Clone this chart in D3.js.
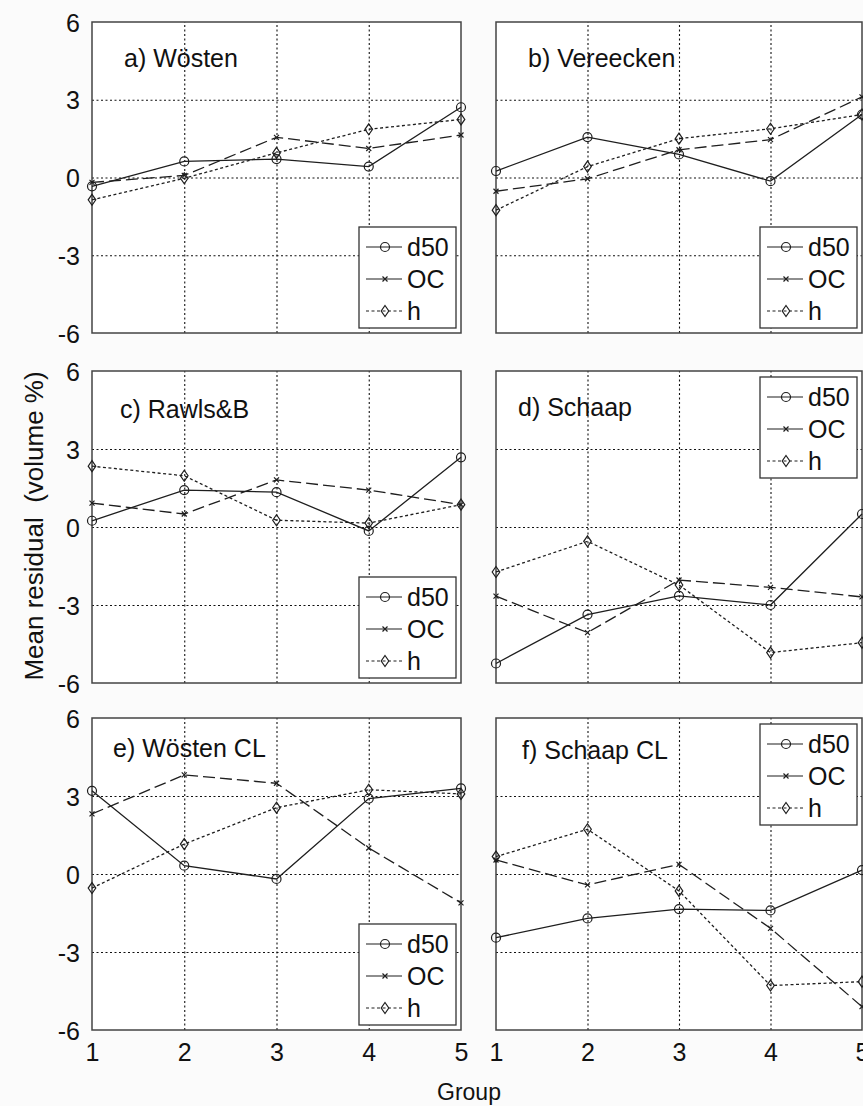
<!DOCTYPE html>
<html>
<head>
<meta charset="utf-8">
<script src="https://cdn.jsdelivr.net/npm/d3@7"></script>
<style>
  body { margin: 0; background: #fbfbfb; }
  svg { display: block; font-family: "Liberation Sans", Arial, sans-serif; }
</style>
</head>
<body>
<div id="vis"></div>
<script>
// chart values
const groups = [1, 2, 3, 4, 5]
const yTicks = [-6, -3, 0, 3, 6]
const seriesNames = ["d50", "OC", "h"]
const panelTitles = ["a) Wösten", "b) Vereecken", "c) Rawls&B", "d) Schaap", "e) Wösten CL", "f) Schaap CL"]

const d50 = [
  [-0.34, 0.62, 0.71, 0.42, 2.71],
  [0.25, 1.56, 0.89, -0.14, 2.43],
  [0.24, 1.42, 1.34, -0.15, 2.68],
  [-5.25, -3.37, -2.65, -3.0, 0.5],
  [3.20, 0.32, -0.19, 2.90, 3.29],
  [-2.45, -1.71, -1.35, -1.40, 0.15]
]
const oc = [
  [-0.19, 0.08, 1.55, 1.12, 1.64],
  [-0.53, -0.05, 1.07, 1.46, 3.11],
  [0.92, 0.50, 1.81, 1.42, 0.86],
  [-2.66, -4.06, -2.04, -2.32, -2.69],
  [2.31, 3.81, 3.49, 1.0, -1.11],
  [0.54, -0.42, 0.37, -2.09, -5.10]
]
const h = [
  [-0.86, -0.03, 0.95, 1.86, 2.24],
  [-1.26, 0.42, 1.50, 1.88, 2.43],
  [2.34, 1.97, 0.26, 0.15, 0.86],
  [-1.73, -0.55, -2.23, -4.83, -4.45],
  [-0.54, 1.15, 2.55, 3.24, 3.08],
  [0.67, 1.72, -0.65, -4.29, -4.14]
]

// layout
const W = 863, H = 1106
const cols = [[92, 461], [496, 862]]
const rows = [[22, 333], [371, 683], [718, 1030]]
const titleOffset = [[32, 45], [32, 45], [28, 47], [22, 45], [21, 39], [26, 41]]
const legendTop = [false, false, false, true, false, true]
const ink = "#1e1e1e"

const styles = {
  d50: { dash: null, marker: "circle" },
  OC: { dash: "12,5", marker: "x" },
  h: { dash: "3,2.5", marker: "diamond" }
}

let svg = d3.select("#vis").append("svg")
    .attr("width", W)
    .attr("height", H)
    .attr("viewBox", `0 0 ${W} ${H}`)

function drawMarker(g, kind, cx, cy) {
  if (kind === "circle") {
    g.append("circle").attr("cx", cx).attr("cy", cy).attr("r", 4.5)
      .attr("fill", "none").attr("stroke", ink).attr("stroke-width", 1.2)
  } else if (kind === "x") {
    g.append("path").attr("d", `M${cx-2.5},${cy-2.5}L${cx+2.5},${cy+2.5}M${cx-2.5},${cy+2.5}L${cx+2.5},${cy-2.5}`)
      .attr("stroke", ink).attr("stroke-width", 1.2)
  } else {
    g.append("path").attr("d", `M${cx},${cy-5.5}L${cx+3.8},${cy}L${cx},${cy+5.5}L${cx-3.8},${cy}Z`)
      .attr("fill", "none").attr("stroke", ink).attr("stroke-width", 1.2)
  }
}

panelTitles.forEach((title, i) => {
  let col = i % 2, row = Math.floor(i / 2)
  let [x0, x1] = cols[col], [y0, y1] = rows[row]
  let x = d3.scaleLinear().domain([1, 5]).range([x0, x1])
  let y = d3.scaleLinear().domain([-6, 6]).range([y1, y0])
  let g = svg.append("g")

  g.append("rect").attr("x", x0).attr("y", y0).attr("width", x1 - x0).attr("height", y1 - y0)
    .attr("fill", "#fff")

  // grid via axes
  let gy = g.append("g").attr("transform", `translate(${x0},0)`)
    .call(d3.axisLeft(y).tickValues(yTicks).tickSize(-(x1 - x0)).tickPadding(x0 - 80)
      .tickFormat(col === 0 ? d => String(d) : ""))
  let gx = g.append("g").attr("transform", `translate(0,${y1})`)
    .call(d3.axisBottom(x).tickValues(groups).tickSize(-(y1 - y0)).tickPadding(13)
      .tickFormat(row === 2 ? d => String(d) : ""))
  ;[gx, gy].forEach(ax => {
    ax.select(".domain").remove()
    ax.selectAll(".tick line").attr("stroke", "#111").attr("stroke-width", 1.1)
      .attr("stroke-dasharray", "2,2.5")
    ax.selectAll(".tick text").attr("fill", "#111").attr("font-size", 25)
      .attr("font-family", "Liberation Sans, Arial, sans-serif")
  })
  gy.selectAll(".tick text").attr("dy", "0.36em")
  gy.selectAll(".tick").filter(d => d === -6 || d === 6).select("line").remove()
  gx.selectAll(".tick").filter(d => d === 1 || d === 5).select("line").remove()

  g.append("rect").attr("x", x0).attr("y", y0).attr("width", x1 - x0).attr("height", y1 - y0)
    .attr("fill", "none").attr("stroke", "#444").attr("stroke-width", 1.5)

  g.append("text").attr("x", x0 + titleOffset[i][0]).attr("y", y0 + titleOffset[i][1])
    .attr("font-size", 25).attr("fill", "#111").text(title)

  let series = { d50: d50[i], OC: oc[i], h: h[i] }
  let line = d3.line().x((d, j) => x(groups[j])).y(d => y(d))
  seriesNames.forEach(name => {
    let st = styles[name]
    g.append("path").datum(series[name]).attr("d", line)
      .attr("fill", "none").attr("stroke", ink).attr("stroke-width", 1.3)
      .attr("stroke-dasharray", st.dash)
    series[name].forEach((v, j) => drawMarker(g, st.marker, x(groups[j]), y(v)))
  })

  // legend
  let lw = 97, lh = 101
  let lx = x1 - 5 - lw
  let ly = legendTop[i] ? y0 + 6 : y1 - 5 - lh
  let lg = g.append("g")
  lg.append("rect").attr("x", lx).attr("y", ly).attr("width", lw).attr("height", lh)
    .attr("fill", "#fff").attr("stroke", "#333").attr("stroke-width", 1.3)
  seriesNames.forEach((name, k) => {
    let cy = ly + 20 + k * 32
    lg.append("line").attr("x1", lx + 7).attr("x2", lx + 43).attr("y1", cy).attr("y2", cy)
      .attr("stroke", ink).attr("stroke-width", 1.2)
      .attr("stroke-dasharray", name === "h" ? styles.h.dash : null)
    drawMarker(lg, styles[name].marker, lx + 26, cy)
    lg.append("text").attr("x", lx + 48).attr("y", cy).attr("dy", "0.36em")
      .attr("font-size", 25).attr("fill", "#111").text(name)
  })
})

svg.append("text").attr("transform", "translate(43,526) rotate(-90)")
  .attr("text-anchor", "middle").attr("font-size", 26).attr("fill", "#111")
  .style("white-space", "pre")
  .text("Mean residual  (volume %)")

svg.append("text").attr("x", 469).attr("y", 1100).attr("text-anchor", "middle")
  .attr("font-size", 23).attr("fill", "#111").text("Group")
</script>
</body>
</html>
